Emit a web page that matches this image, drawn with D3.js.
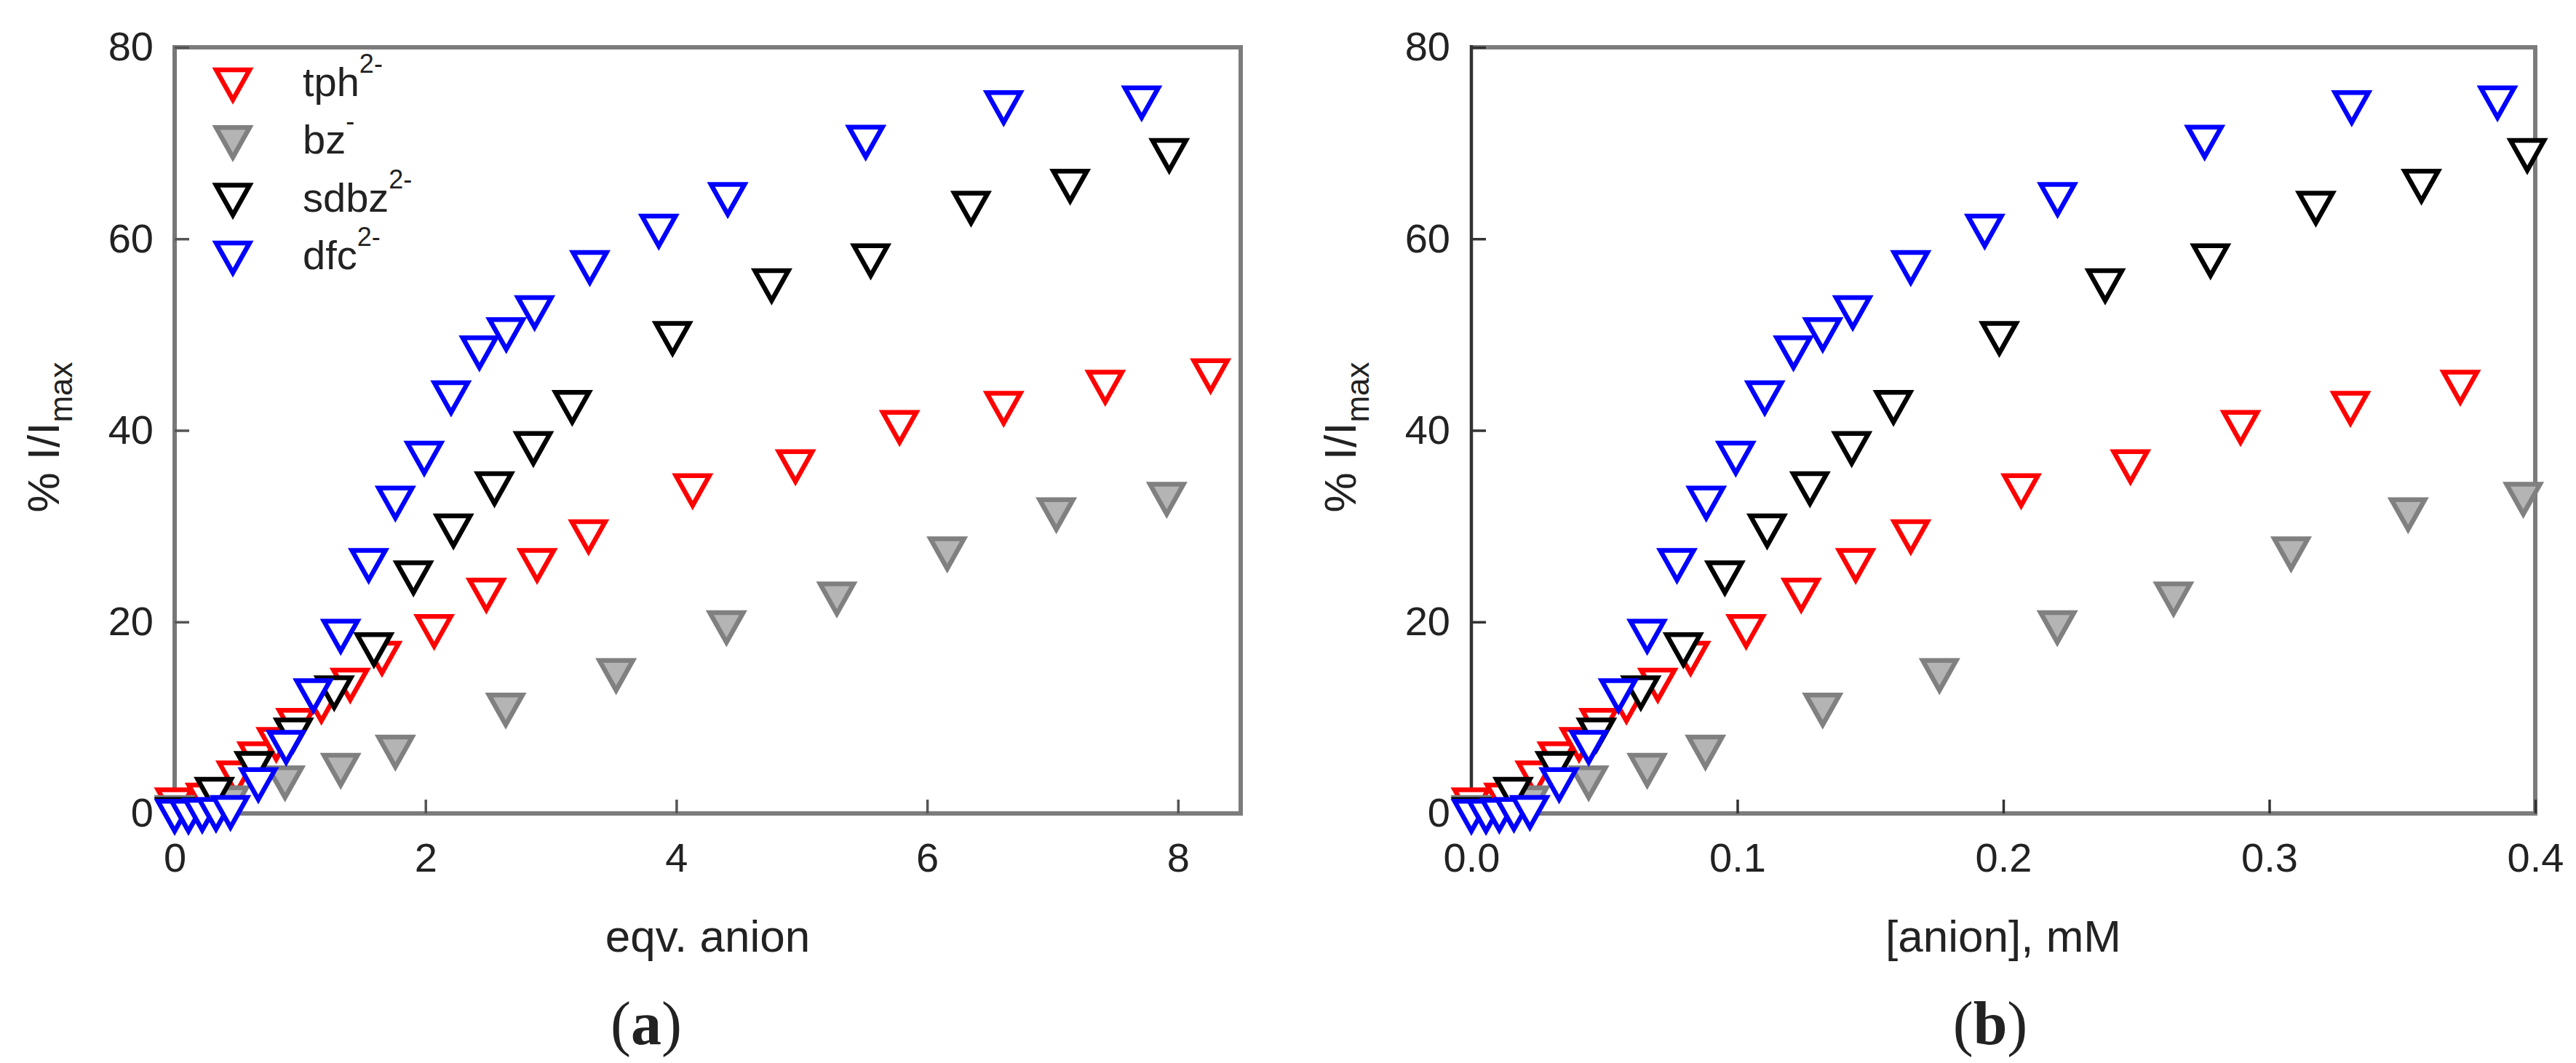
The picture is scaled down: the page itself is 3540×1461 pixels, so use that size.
<!DOCTYPE html>
<html>
<head>
<meta charset="utf-8">
<script src="https://cdn.jsdelivr.net/npm/d3@7"></script>
<style>
  html, body { margin: 0; padding: 0; background: #fff; }
  svg { display: block; }
  text { font-family: "Liberation Sans", Arial, sans-serif; fill: #222; }
</style>
</head>
<body>
<div id="chart"></div>
<script>
// legend order (also the drawing order)
const seriesKeys = ['tph', 'bz', 'sdbz', 'dfc'];
const seriesCharges = ['2-', '-', '2-', '2-'];

// tph2-
const tphEqv = [0, 0.245, 0.49, 0.657, 0.81, 0.967, 1.17, 1.40, 1.653, 2.069, 2.485, 2.89, 3.30, 4.13, 4.95, 5.78, 6.61, 7.42, 8.26];
const tphMM = [0, 0.0122, 0.024, 0.0323, 0.0405, 0.048, 0.0583, 0.0701, 0.0824, 0.1033, 0.124, 0.1445, 0.1652, 0.2067, 0.2478, 0.2892, 0.3305, 0.3718];
const tphValues = [0.8, 1.3, 3.6, 5.6, 7.1, 9.1, 11.1, 13.3, 16.1, 18.9, 22.7, 25.8, 28.8, 33.6, 36.1, 40.2, 42.2, 44.4, 45.6];

// bz-
const bzEqv = [0, 0.44, 0.88, 1.324, 1.76, 2.64, 3.52, 4.40, 5.28, 6.16, 7.03, 7.91];
const bzMM = [0, 0.022, 0.0441, 0.0661, 0.088, 0.1321, 0.176, 0.2203, 0.264, 0.3082, 0.3522, 0.3955];
const bzValues = [0, 1.0, 3.1, 4.4, 6.3, 10.7, 14.3, 19.3, 22.3, 27.0, 31.1, 32.7];

// sdbz2-
const sdbzEqv = [0, 0.317, 0.634, 0.947, 1.272, 1.589, 1.904, 2.223, 2.55, 2.86, 3.17, 3.97, 4.76, 5.55, 6.35, 7.14, 7.93];
const sdbzMM = [0, 0.0157, 0.0315, 0.047, 0.0637, 0.0797, 0.0953, 0.1112, 0.1273, 0.143, 0.1587, 0.1985, 0.2383, 0.2779, 0.3175, 0.3572, 0.397];
const sdbzValues = [-0.2, 1.9, 4.6, 8.1, 12.5, 17.0, 24.5, 29.4, 33.8, 38.0, 42.3, 49.5, 55.0, 57.6, 63.1, 65.4, 68.6];

// dfc2-
const dfcEqv = [0, 0.11, 0.22, 0.33, 0.445, 0.667, 0.889, 1.106, 1.324, 1.547, 1.76, 1.99, 2.204, 2.43, 2.644, 2.87, 3.31, 3.86, 4.41, 5.51, 6.61, 7.71];
const dfcMM = [0, 0.0055, 0.0105, 0.016, 0.022, 0.033, 0.0441, 0.0553, 0.0661, 0.0773, 0.0883, 0.0994, 0.1103, 0.1211, 0.1321, 0.1434, 0.1652, 0.193, 0.2204, 0.2757, 0.331, 0.3858];
const dfcValues = [-0.4, -0.4, -0.3, -0.2, 0.0, 2.9, 6.8, 12.2, 18.4, 25.8, 32.3, 37.0, 43.3, 48.0, 49.9, 52.2, 56.9, 60.7, 64.0, 70.0, 73.6, 74.1];

const yTicks = [0, 20, 40, 60, 80];
const eqvTicks = [0, 2, 4, 6, 8];
const mMTicks = [0, 0.1, 0.2, 0.3, 0.4];

const width = 3540;
const height = 1461;

const markerStyle = {
  tph: {stroke: '#ff0000', fill: '#ffffff'},
  bz: {stroke: '#808080', fill: '#b4b4b4'},
  sdbz: {stroke: '#000000', fill: '#ffffff'},
  dfc: {stroke: '#0000ff', fill: '#ffffff'}
};

// down-pointing triangle, bbox roughly centred on the point
const triangle = 'M-23,-22L23,-22L0,19Z';

const svg = d3.select('#chart')
  .append('svg')
  .attr('width', width)
  .attr('height', height)
  .attr('viewBox', `0 0 ${width} ${height}`);

svg.append('rect').attr('width', width).attr('height', height).attr('fill', '#fff');

function buildRows(xs, ys) {
  return xs.map((x, i) => ({x: x, y: ys[i]}));
}

function drawPanel(opts) {
  let x = d3.scaleLinear().domain(opts.xDomain).range([opts.left, opts.right]);
  let y = d3.scaleLinear().domain([0, 80]).range([opts.bottom, opts.top]);
  let g = svg.append('g');

  // frame
  let frameColor = '#7c7c7c';
  g.append('line').attr('x1', opts.left).attr('x2', opts.right).attr('y1', opts.top).attr('y2', opts.top)
    .attr('stroke', frameColor).attr('stroke-width', 6);
  g.append('line').attr('x1', opts.right).attr('x2', opts.right).attr('y1', opts.top - 3).attr('y2', opts.bottom + 3)
    .attr('stroke', frameColor).attr('stroke-width', 6);
  g.append('line').attr('x1', opts.left).attr('x2', opts.right + 3).attr('y1', opts.bottom).attr('y2', opts.bottom)
    .attr('stroke', frameColor).attr('stroke-width', 6);
  g.append('line').attr('x1', opts.left).attr('x2', opts.left).attr('y1', opts.top - 3).attr('y2', opts.bottom + 3)
    .attr('stroke', opts.leftAxisColor).attr('stroke-width', opts.leftAxisWidth);

  // axes, ticks pointing inward
  let yAxis = g.append('g')
    .attr('transform', `translate(${opts.left},0)`)
    .call(d3.axisLeft(y).tickValues(yTicks).tickSize(-20).tickPadding(29).tickFormat(d3.format('d')));
  let xAxis = g.append('g')
    .attr('transform', `translate(0,${opts.bottom})`)
    .call(d3.axisBottom(x).tickValues(opts.xTicks).tickSize(-19).tickPadding(40).tickFormat(opts.xFormat));

  [yAxis, xAxis].forEach(axis => {
    axis.select('.domain').remove();
    axis.selectAll('.tick line').attr('stroke', opts.tickColor).attr('stroke-width', 3.5);
    axis.selectAll('.tick text')
      .attr('fill', '#222')
      .style('font-family', '"Liberation Sans", Arial, sans-serif')
      .style('font-size', '56px');
  });

  // axis titles
  g.append('text')
    .attr('x', (opts.left + opts.right) / 2)
    .attr('y', 1308)
    .attr('text-anchor', 'middle')
    .style('font-size', '62px')
    .text(opts.xTitle);

  let yTitle = g.append('text')
    .attr('transform', `translate(${opts.left - 159},601) rotate(-90)`)
    .attr('text-anchor', 'middle')
    .style('font-size', '62px');
  yTitle.append('tspan').text('% I/I');
  yTitle.append('tspan').attr('dy', 18).style('font-size', '44px').text('max');

  // caption
  let caption = g.append('text')
    .attr('x', opts.captionX)
    .attr('y', 1435)
    .attr('text-anchor', 'middle')
    .style('font-family', '"Liberation Serif", "Times New Roman", serif')
    .style('font-size', '84px')
    .attr('fill', '#000');
  caption.append('tspan').text('(');
  caption.append('tspan').style('font-weight', 'bold').text(opts.caption);
  caption.append('tspan').text(')');

  // markers
  seriesKeys.forEach((key, i) => {
    let rows = buildRows(opts.xs[i], opts.ys[i]);
    g.append('g')
      .selectAll('path')
      .data(rows)
      .enter()
      .append('path')
      .attr('d', triangle)
      .attr('transform', d => `translate(${x(d.x)},${y(d.y)})`)
      .attr('fill', markerStyle[key].fill)
      .attr('stroke', markerStyle[key].stroke)
      .attr('stroke-width', 6.5)
      .attr('stroke-linejoin', 'miter');
  });

  if (opts.legend) drawLegend(g);
}

function drawLegend(g) {
  let legendX = 320;
  let textX = 416;
  let firstY = 118;
  let step = 79.3;

  seriesKeys.forEach((key, i) => {
    let cy = firstY + i * step;
    g.append('path')
      .attr('d', triangle)
      .attr('transform', `translate(${legendX},${cy})`)
      .attr('fill', markerStyle[key].fill)
      .attr('stroke', markerStyle[key].stroke)
      .attr('stroke-width', 6.5);

    let label = g.append('text')
      .attr('x', textX)
      .attr('y', cy + 14)
      .style('font-size', '56px')
      .attr('fill', '#1a1a1a');
    label.append('tspan').text(key);
    label.append('tspan').attr('dy', -32).style('font-size', '36px').text(seriesCharges[i]);
  });
}

drawPanel({
  left: 240, right: 1705, top: 65, bottom: 1118,
  xDomain: [0, 8.5],
  xTicks: eqvTicks,
  xFormat: d3.format('d'),
  xTitle: 'eqv. anion',
  caption: 'a',
  captionX: 888,
  leftAxisColor: '#777777',
  leftAxisWidth: 6,
  tickColor: '#555555',
  xs: [tphEqv, bzEqv, sdbzEqv, dfcEqv],
  ys: [tphValues, bzValues, sdbzValues, dfcValues],
  legend: true
});

drawPanel({
  left: 2022, right: 3484, top: 65, bottom: 1118,
  xDomain: [0, 0.4],
  xTicks: mMTicks,
  xFormat: d3.format('.1f'),
  xTitle: '[anion], mM',
  caption: 'b',
  captionX: 2735,
  leftAxisColor: '#333333',
  leftAxisWidth: 4.5,
  tickColor: '#333333',
  xs: [tphMM, bzMM, sdbzMM, dfcMM],
  ys: [tphValues, bzValues, sdbzValues, dfcValues],
  legend: false
});
</script>
</body>
</html>
